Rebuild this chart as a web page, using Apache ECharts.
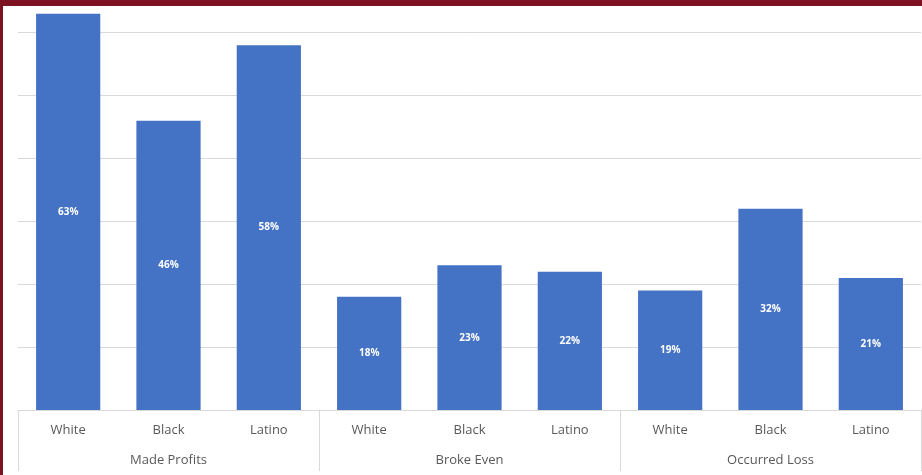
<!DOCTYPE html>
<html>
<head>
<meta charset="utf-8">
<style>
  html, body { margin: 0; padding: 0; background: #ffffff; }
  #chart { width: 922px; height: 475px; }
</style>
<script src="https://cdn.jsdelivr.net/npm/echarts@6/dist/echarts.min.js"></script>
</head>
<body>
<div id="chart"></div>
<script>
// Business outcome by race, grouped by outcome
const categories = ['White', 'Black', 'Latino', 'White', 'Black', 'Latino', 'White', 'Black', 'Latino'];
const groups = ['Made Profits', 'Broke Even', 'Occurred Loss'];
const values = [63, 46, 58, 18, 23, 22, 19, 32, 21];
const yMax = 65.2;
const yStep = 10;

const chart = echarts.init(document.getElementById('chart'), null, { renderer: 'canvas' });
const labelFont = '"Open Sans", "Liberation Sans", sans-serif';
const lineColor = '#d9d9d9';

chart.setOption({
  animation: false,
  backgroundColor: '#ffffff',
  grid: { left: 18, right: 1, top: 0, bottom: 65, containLabel: false },
  xAxis: [
    {
      type: 'category',
      data: categories,
      position: 'bottom',
      axisLine: { show: true, lineStyle: { color: lineColor, width: 1 } },
      axisTick: { show: false },
      axisLabel: { interval: 0, margin: 14, color: '#595959', fontSize: 13, fontFamily: labelFont }
    },
    {
      type: 'category',
      data: groups,
      position: 'bottom',
      axisLine: { show: false },
      axisTick: { show: true, length: 61, interval: 0, lineStyle: { color: lineColor, width: 1 } },
      axisLabel: { interval: 0, margin: 44, color: '#595959', fontSize: 13, fontFamily: labelFont }
    }
  ],
  yAxis: {
    type: 'value',
    min: 0,
    max: yMax,
    interval: yStep,
    axisLine: { show: false },
    axisTick: { show: false },
    axisLabel: { show: false },
    splitLine: { show: true, lineStyle: { color: lineColor, width: 1 } }
  },
  series: [
    {
      type: 'bar',
      xAxisIndex: 0,
      data: values,
      barWidth: '64%',
      itemStyle: { color: '#4472c4' },
      label: {
        show: true,
        position: 'inside',
        formatter: '{c}%',
        color: '#ffffff',
        fontSize: 10,
        fontWeight: 'bold',
        fontFamily: labelFont
      }
    }
  ],
  graphic: [
    // maroon frame along the top and left edges
    { type: 'rect', left: 0, top: 0, z: 100, shape: { width: 922, height: 6 }, style: { fill: '#7d1322' } },
    { type: 'rect', left: 0, top: 0, z: 100, shape: { width: 3, height: 475 }, style: { fill: '#7d1322' } }
  ]
});
</script>
</body>
</html>
